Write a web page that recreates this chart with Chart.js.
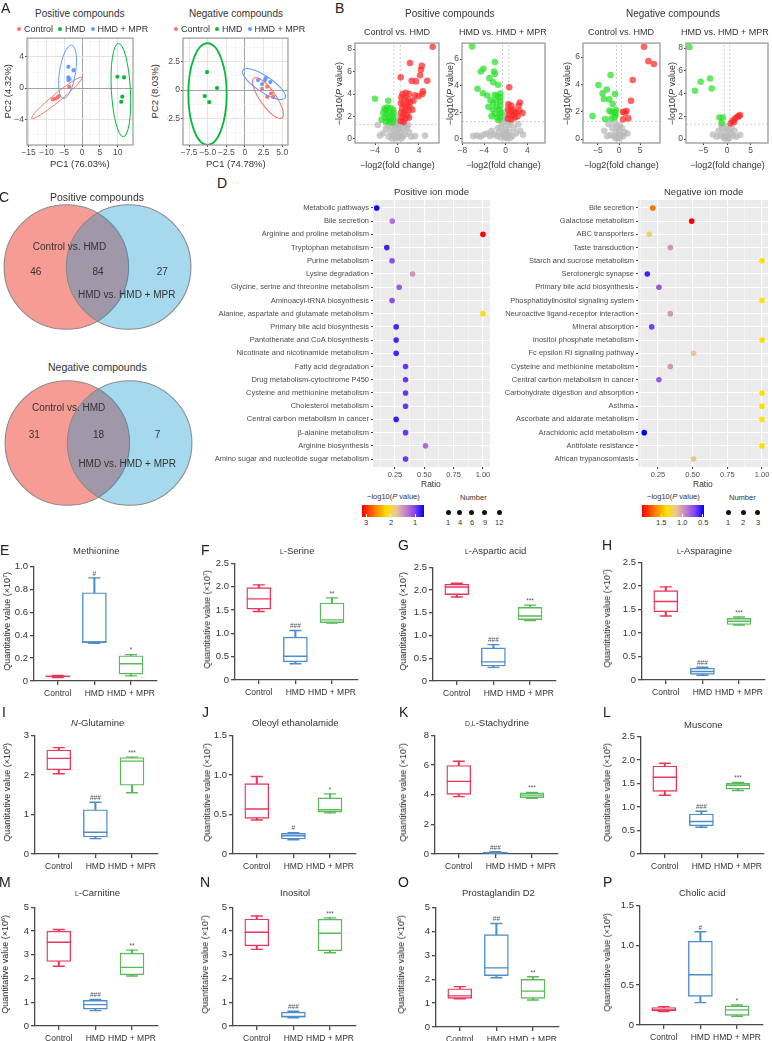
<!DOCTYPE html>
<html>
<head>
<meta charset="utf-8">
<title>Metabolomics figure</title>
<script src="https://cdn.jsdelivr.net/npm/chart.js@4.4.1/dist/chart.umd.min.js"></script>
<style>
  html, body { margin: 0; padding: 0; background: #fff; }
  body { position: relative; width: 772px; height: 1041px; overflow: hidden;
         font-family: "Liberation Sans", Arial, sans-serif; color: #333; }
  canvas { position: absolute; }
  .t { position: absolute; white-space: nowrap; line-height: 1; }
  .rot { writing-mode: vertical-rl; text-orientation: sideways; transform: rotate(180deg); }
  .dot { display: inline-block; width: 4px; height: 4px; border-radius: 50%; margin-right: 3px;
         position: relative; top: -1px; }
  .sc { font-size: 0.72em; }
  sup { font-size: 0.6em; line-height: 0; vertical-align: 0.6em; }
  .bar { position: absolute; }
  .ndot { position: absolute; width: 5px; height: 5px; border-radius: 50%; background: #111; }
</style>
</head>
<body>
<script>
// ---------- shared ----------
const groups = ['Control', 'HMD', 'HMD + MPR'];
const groupColors = ['#E8375B', '#4C8DCA', '#5CBA5A'];
const pcaColors = ['#F8766D', '#00BA38', '#619CFF'];

// ---------- A: PCA scores [PC1, PC2] ----------
const posPcaControl = [[-8.2, -1.45], [-7.5, -1.37], [-6.9, -1.2], [-6.5, -1.03], [-3.6, 0.17]];
const posPcaHMD = [[9.9, 1.45], [11.8, 1.37], [11.3, -1.1], [11.0, -1.75]];
const posPcaMPR = [[-3.85, 2.73], [-2.4, 2.3], [-3.85, 1.37], [-3.85, 1.03], [-3.5, 1.15]];
const negPcaControl = [[2.3, 0.1], [3.0, 0.3], [3.0, -0.6], [3.8, -0.6], [3.5, -0.3]];
const negPcaHMD = [[-5.1, 1.58], [-3.76, 0.18], [-5.4, -0.53], [-4.8, -1.05]];
const negPcaMPR = [[1.75, 0.88], [2.7, 0.88], [3.4, 0.7], [2.3, 0.53], [2.8, 1.05]];
// confidence ellipses: [centre x, centre y, axis-1 dx, dy, axis-2 dx, dy]
const posEllipses = [[-7.1, -1.26, 7.02, 2.63, 0.71, -0.40], [10.9, -0.26, -0.70, 5.99, 2.67, 0.06], [-4.07, 2.09, 1.18, 3.42, 2.22, -0.16]];
const negEllipses = [[3.09, -0.70, 1.88, -1.75, 0.87, 0.40], [-5.04, -0.35, 0, 4.47, 2.58, 0], [2.55, 0.53, 2.82, -1.23, -0.60, -0.58]];

// ---------- B: volcano [-log2 FC, -log10 P] ----------
const fcCut = 0.58;
const pCut = 1.3;
const volPosCtrlUp = [[6.5, 8.2], [2.36, 6.76], [4.5, 6.5], [4.36, 6.16], [4.2, 5.66], [0.67, 5.48], [2.67, 5.18], [3.45, 5.12], [5.5, 5.18],
  [4.7, 4.23], [4.6, 4.0], [3.3, 3.88], [3.9, 3.8], [1.0, 4.0], [1.6, 4.1], [2.2, 4.0], [0.8, 3.7], [1.4, 3.6], [2.0, 3.5], [2.4, 3.3],
  [0.7, 3.2], [1.2, 3.1], [1.8, 3.0], [2.3, 2.9], [0.9, 2.7], [1.5, 2.6], [2.1, 2.5], [0.7, 2.3], [1.2, 2.2], [1.8, 2.1], [0.9, 1.9],
  [1.5, 1.8], [2.2, 1.9], [0.7, 1.6], [1.2, 1.5], [3.0, 3.4], [2.8, 2.6]];
const volPosCtrlDown = [[-4.0, 3.58], [-1.6, 3.4], [-2.0, 2.6], [-2.8, 1.72], [-2.3, 2.7], [-1.8, 2.8], [-1.2, 2.75], [-0.7, 2.6],
  [-2.5, 2.3], [-1.9, 2.2], [-1.4, 2.3], [-0.9, 2.1], [-0.6, 2.3], [-2.2, 1.9], [-1.6, 1.8], [-1.1, 1.7], [-0.7, 1.8], [-1.4, 1.5],
  [-0.8, 1.45], [-2.0, 1.55]];
const volPosCtrlNs = [[-3.1, 0.3], [3.3, 0.26], [5.1, 0.3], [-3.5, 1.24], [-2.5, 0.5], [-2.0, 0.9], [-1.5, 0.2], [-1.2, 0.6], [-1.0, 1.1],
  [-0.7, 0.3], [-0.5, 0.8], [-0.3, 1.2], [0, 0.1], [0, 0.5], [0.2, 0.9], [0.4, 0.3], [0.5, 1.1], [0.7, 0.6], [1.0, 0.2], [1.2, 0.9],
  [1.5, 0.4], [1.8, 1.0], [2.2, 0.6], [2.6, 0.2], [-0.2, 0.05], [0.8, 0.05], [-0.9, 0.05], [1.3, 1.25], [-1.7, 1.2], [2.0, 1.25],
  [0.1, 1.3], [0.3, 1.7], [-0.2, 1.9], [0.1, 1.5]];
const volPosMprUp = [[0.66, 3.88], [2.6, 2.73], [2.4, 2.5], [3.1, 1.93], [0.5, 2.6], [1.0, 2.5], [0.4, 2.2], [0.9, 2.1], [1.4, 2.2],
  [1.9, 2.0], [0.6, 1.8], [1.2, 1.75], [1.7, 1.6], [2.2, 1.7], [0.4, 1.5], [1.0, 1.45], [2.5, 2.1], [1.5, 1.9]];
const volPosMprDown = [[-6.2, 6.95], [-2.0, 5.77], [-4.1, 5.26], [-4.6, 5.06], [-2.15, 5.06], [-2.0, 4.87], [-3.0, 4.56], [-2.3, 4.26],
  [-1.4, 4.06], [-5.2, 3.76], [-4.2, 3.43], [-3.4, 3.26], [-1.0, 3.4], [-1.0, 3.1], [-1.0, 2.8], [-1.0, 2.5], [-1.2, 2.2], [-1.1, 1.9],
  [-1.0, 1.6], [-1.3, 1.4], [-2.8, 2.9], [-2.3, 2.7], [-1.8, 2.9], [-3.2, 2.4], [-2.4, 2.2], [-1.7, 2.4], [-2.0, 1.9], [-1.6, 1.6],
  [-2.6, 1.7], [-1.5, 3.2], [-2.0, 3.3], [-0.8, 2.0]];
const volPosMprNs = [[-5.3, 0.25], [-4.1, 0.3], [-2.9, 0.2], [-3.5, 0.4], [-2.2, 0.35], [-1.6, 0.2], [-1.2, 0.5], [-0.8, 0.9], [-0.5, 1.2],
  [-0.4, 0.4], [-0.2, 0.1], [0, 0.7], [0.1, 1.3], [0.3, 0.3], [0.5, 1.0], [0.7, 0.5], [1.0, 1.2], [1.2, 0.2], [1.5, 0.8], [1.9, 0.4],
  [2.3, 1.1], [2.7, 0.6], [3.2, 0.3], [-0.9, 0.1], [-1.4, 0.8], [-2.6, 0.6], [0.2, 0.05], [-0.1, 0.5], [0.8, 0.05], [-0.3, 1.6],
  [0.2, 1.8], [-4.7, 0.15], [-6.0, 0.2]];
const volNegCtrlUp = [[5.95, 6.75], [7.0, 5.7], [8.3, 5.49], [3.25, 4.32], [2.86, 2.8], [1.8, 2.05], [0.9, 2.0], [1.4, 1.93], [2.2, 1.51], [1.0, 1.44]];
const volNegCtrlDown = [[-2.0, 4.68], [-4.9, 3.95], [-2.9, 3.63], [-3.9, 3.34], [-0.95, 3.29], [-3.6, 2.93], [-2.3, 2.9], [-1.5, 2.56],
  [-2.3, 2.07], [-0.7, 2.12], [-1.8, 2.0], [-1.1, 1.95], [-6.3, 1.68], [-3.3, 1.46], [-1.8, 1.5], [-1.0, 1.6], [-0.8, 1.8]];
const volNegCtrlNs = [[-3.5, 0.6], [-2.5, 1.1], [-2.0, 0.3], [-1.6, 0.8], [-1.2, 0.2], [-1.0, 1.2], [-0.7, 0.5], [-0.5, 0.9], [-0.3, 0.1],
  [0, 0.6], [0.2, 1.0], [0.4, 0.3], [0.7, 0.8], [1.0, 0.2], [1.3, 0.5], [0.1, 0.05], [-0.8, 0.05], [2.0, 0.4], [-2.8, 0.2]];
const volNegMprUp = [[2.77, 2.1], [2.2, 1.95], [1.7, 1.8], [1.2, 1.6], [0.8, 1.38], [1.5, 1.5], [2.5, 2.0]];
const volNegMprDown = [[-8.0, 8.1], [-3.6, 5.33], [-5.6, 5.04], [-3.25, 4.45], [-6.8, 4.25], [-1.6, 1.9], [-0.9, 1.9], [-1.1, 1.43]];
const volNegMprNs = [[-3.0, 0.4], [-2.2, 0.2], [-1.8, 0.7], [-1.4, 0.3], [-1.0, 0.9], [-0.7, 0.2], [-0.4, 0.6], [-0.2, 1.1], [0, 0.3],
  [0.3, 0.8], [0.5, 0.1], [0.8, 0.5], [1.0, 1.0], [1.3, 0.3], [1.6, 0.7], [2.0, 0.2], [2.8, 0.35], [-0.5, 0.05], [0.2, 0.05], [-1.2, 1.2]];

// ---------- C: Venn counts [only set 1, shared, only set 2] ----------
const vennSets = ['Control vs. HMD', 'HMD vs. HMD + MPR'];
const posVennCounts = [46, 84, 27];
const negVennCounts = [31, 18, 7];

// ---------- D: KEGG enrichment ----------
const posPathways = ['Metabolic pathways', 'Bile secretion', 'Arginine and proline metabolism', 'Tryptophan metabolism',
  'Purine metabolism', 'Lysine degradation', 'Glycine, serine and threonine metabolism', 'Aminoacyl-tRNA biosynthesis',
  'Alanine, aspartate and glutamate metabolism', 'Primary bile acid biosynthesis', 'Pantothenate and CoA biosynthesis',
  'Nicotinate and nicotinamide metabolism', 'Fatty acid degradation', 'Drug metabolism-cytochrome P450',
  'Cysteine and methionine metabolism', 'Cholesterol metabolism', 'Central carbon metabolism in cancer',
  '\u03B2-alanine metabolism', 'Arginine biosynthesis', 'Amino sugar and nucleotide sugar metabolism'];
const posRatio = [0.094, 0.227, 1.0, 0.18, 0.225, 0.40, 0.286, 0.225, 1.0, 0.26, 0.26, 0.26, 0.34, 0.34, 0.34, 0.34, 0.26, 0.34, 0.51, 0.34];
const posLogP = [0.66, 1.27, 3.17, 0.82, 1.07, 1.5, 1.15, 1.07, 2.1, 0.84, 0.84, 0.84, 0.94, 0.94, 0.94, 0.94, 0.79, 0.94, 1.25, 0.94];
const negPathways = ['Bile secretion', 'Galactose metabolism', 'ABC transporters', 'Taste transduction',
  'Starch and sucrose metabolism', 'Serotonergic synapse', 'Primary bile acid biosynthesis',
  'Phosphatidylinositol signaling system', 'Neuroactive ligand-receptor interaction', 'Mineral absorption',
  'Inositol phosphate metabolism', 'Fc epsilon RI signaling pathway', 'Cysteine and methionine metabolism',
  'Central carbon metabolism in cancer', 'Carbohydrate digestion and absorption', 'Asthma',
  'Ascorbate and aldarate metabolism', 'Arachidonic acid metabolism', 'Antifolate resistance', 'African trypanosomiasis'];
const negRatio = [0.212, 0.493, 0.187, 0.339, 1.0, 0.173, 0.257, 1.0, 0.339, 0.205, 1.0, 0.507, 0.339, 0.257, 1.0, 1.0, 1.0, 0.151, 1.0, 0.507];
const negLogP = [1.69, 1.96, 1.22, 0.98, 1.37, 0.58, 0.77, 1.37, 0.98, 0.68, 1.37, 1.14, 0.98, 0.77, 1.37, 1.37, 1.37, 0.47, 1.37, 1.14];
const posLogPRange = [3.17, 0.64];
const negLogPRange = [1.963, 0.473];
const posLogPTicks = [3, 2, 1];
const negLogPTicks = [1.5, 1.0, 0.5];
const posNumberKeys = [1, 4, 6, 9, 12];
const negNumberKeys = [1, 2, 3];

// ---------- E-P: box plots [min, Q1, median, Q3, max] for Control, HMD, HMD + MPR ----------
const methionine = [[0.03, 0.035, 0.04, 0.045, 0.048], [0.33, 0.335, 0.34, 0.77, 0.9], [0.045, 0.06, 0.15, 0.22, 0.23]];
const lSerine = [[1.47, 1.52, 1.74, 1.98, 2.04], [0.35, 0.39, 0.51, 0.92, 1.06], [1.22, 1.23, 1.29, 1.65, 1.76]];
const lAsparticAcid = [[1.85, 1.9, 2.07, 2.13, 2.15], [0.3, 0.33, 0.42, 0.73, 0.8], [1.33, 1.35, 1.43, 1.62, 1.67]];
const lAsparagine = [[1.36, 1.45, 1.67, 1.9, 1.98], [0.1, 0.12, 0.18, 0.25, 0.27], [1.17, 1.18, 1.25, 1.31, 1.34]];
const nGlutamine = [[2.03, 2.13, 2.42, 2.63, 2.69], [0.39, 0.43, 0.55, 1.12, 1.31], [1.55, 1.74, 2.35, 2.44, 2.45]];
const oleoylEthanolamide = [[0.43, 0.45, 0.57, 0.89, 0.98], [0.18, 0.19, 0.23, 0.26, 0.27], [0.52, 0.53, 0.56, 0.71, 0.76]];
const stachydrine = [[3.87, 4.02, 4.9, 5.97, 6.26], [0.03, 0.05, 0.08, 0.12, 0.15], [3.75, 3.8, 3.97, 4.12, 4.15]];
const muscone = [[1.25, 1.33, 1.63, 1.87, 1.93], [0.57, 0.6, 0.69, 0.85, 0.91], [1.35, 1.38, 1.46, 1.5, 1.52]];
const lCarnitine = [[2.52, 2.72, 3.53, 4.0, 4.07], [0.65, 0.71, 0.9, 1.08, 1.12], [2.11, 2.16, 2.47, 3.07, 3.2]];
const inositol = [[3.23, 3.38, 3.95, 4.51, 4.64], [0.35, 0.37, 0.4, 0.58, 0.62], [3.09, 3.17, 3.91, 4.5, 4.56]];
const prostaglandinD2 = [[1.18, 1.2, 1.3, 1.6, 1.69], [2.06, 2.15, 2.47, 3.86, 4.33], [1.13, 1.2, 1.5, 1.99, 2.1]];
const cholicAcid = [[0.17, 0.18, 0.19, 0.22, 0.23], [0.28, 0.36, 0.63, 1.05, 1.17], [0.11, 0.12, 0.19, 0.24, 0.25]];
// significance marks above each box
const methionineSig = ['', '#', '*'];
const lSerineSig = ['', '###', '**'];
const lAsparticAcidSig = ['', '###', '***'];
const lAsparagineSig = ['', '###', '***'];
const nGlutamineSig = ['', '###', '***'];
const oleoylEthanolamideSig = ['', '#', '*'];
const stachydrineSig = ['', '###', '***'];
const musconeSig = ['', '###', '***'];
const lCarnitineSig = ['', '###', '**'];
const inositolSig = ['', '###', '***'];
const prostaglandinD2Sig = ['', '##', '**'];
const cholicAcidSig = ['', '#', '*'];

// ---------- helpers ----------
const FONT = '"Liberation Sans", Arial, sans-serif';
Chart.defaults.font.family = FONT;
Chart.defaults.font.size = 9;
Chart.defaults.color = '#333';
Chart.defaults.animation = false;
Chart.defaults.responsive = false;
Chart.defaults.devicePixelRatio = 1;
Chart.defaults.plugins.legend.display = false;
Chart.defaults.plugins.tooltip.enabled = false;

// text centred on (x, y), snapped to whole pixels so it stays crisp
function label(html, x, y, size, opt = {}) {
  const d = document.createElement('div');
  d.className = 't' + (opt.rot ? ' rot' : '');
  d.innerHTML = html;
  d.style.fontSize = size + 'px';
  d.style.color = opt.color || '#333';
  document.body.appendChild(d);
  const w = d.offsetWidth, h = d.offsetHeight;
  const left = opt.align === 'l' ? x : opt.align === 'r' ? x - w : x - w / 2;
  d.style.left = Math.round(left) + 'px';
  d.style.top = Math.round(y - h / 2) + 'px';
  return d;
}

// area = wanted chart area on the page [left, top, right, bottom]; pad = room for axes [l, t, r, b]
function makeChart(area, pad, config) {
  const [x0, y0, x1, y1] = area;
  const [pl, pt, pr, pb] = pad;
  const w = Math.round(x1 - x0 + pl + pr), h = Math.round(y1 - y0 + pt + pb);
  const cv = document.createElement('canvas');
  cv.width = w; cv.height = h;
  Object.assign(cv.style, { left: (x0 - pl) + 'px', top: (y0 - pt) + 'px', width: w + 'px', height: h + 'px' });
  document.body.appendChild(cv);
  const sc = config.options.scales;
  const xs = sc.x.display !== false, ys = sc.y.display !== false;
  if (xs) sc.x.afterFit = s => { s.height = pb; };
  if (ys) sc.y.afterFit = s => { s.width = pl; };
  config.options.layout = { padding: { left: ys ? 0 : pl, top: pt, right: pr, bottom: xs ? 0 : pb } };
  return new Chart(cv, config);
}

function panelPlugin(o) {
  return {
    id: 'panel',
    beforeDraw(chart) {
      if (!o.fill) return;
      const a = chart.chartArea, c = chart.ctx;
      c.save(); c.fillStyle = o.fill;
      c.fillRect(a.left, a.top, a.right - a.left, a.bottom - a.top); c.restore();
    },
    afterDraw(chart) {
      if (!o.frame) return;
      const a = chart.chartArea, c = chart.ctx;
      c.save(); c.strokeStyle = o.frame; c.lineWidth = o.width || 1;
      c.strokeRect(a.left, a.top, a.right - a.left, a.bottom - a.top); c.restore();
    }
  };
}

function textPlugin(items, size, color) {
  return {
    id: 'texts',
    afterDatasetsDraw(chart) {
      const c = chart.ctx, sx = chart.scales.x, sy = chart.scales.y;
      c.save();
      c.textAlign = 'center'; c.textBaseline = 'middle'; c.fillStyle = color;
      c.font = `${size}px ${FONT}`;
      items.forEach(it => c.fillText(it.text, sx.getPixelForValue(it.x), sy.getPixelForValue(it.y) + (it.dy || 0)));
      c.restore();
    }
  };
}

function ellipsePlugin(list, colors, widths) {
  return {
    id: 'ellipses',
    afterDatasetsDraw(chart) {
      const c = chart.ctx, sx = chart.scales.x, sy = chart.scales.y, a = chart.chartArea;
      c.save();
      c.beginPath(); c.rect(a.left, a.top, a.right - a.left, a.bottom - a.top); c.clip();
      list.forEach((e, i) => {
        const px = sx.getPixelForValue(e[0]), py = sy.getPixelForValue(e[1]);
        const ax = sx.getPixelForValue(e[0] + e[2]) - px, ay = sy.getPixelForValue(e[1] + e[3]) - py;
        const bx = sx.getPixelForValue(e[0] + e[4]) - px, by = sy.getPixelForValue(e[1] + e[5]) - py;
        c.save();
        c.transform(ax, ay, bx, by, px, py);
        c.beginPath(); c.arc(0, 0, 1, 0, 2 * Math.PI);
        c.restore();
        c.strokeStyle = colors[i]; c.lineWidth = widths[i]; c.stroke();
      });
      c.restore();
    }
  };
}

const isMajor = (v, s) => Math.abs(v / s - Math.round(v / s)) < 1e-6;
const minus = v => (v < 0 ? '\u2212' : '') + Math.abs(v);

// ---------- A: PCA ----------
function pcaChart(area, pts, ells, widths, xr, yr, xStep, yStep, fmtX, fmtY) {
  const axis = (r, step, fmt) => ({
    type: 'linear', min: r[0], max: r[1],
    ticks: { stepSize: step / 2, includeBounds: false, autoSkip: false, maxRotation: 0, font: { size: 8.5 },
             color: '#4d4d4d', padding: 1, callback: v => isMajor(v, step) ? fmt(v) : '' },
    grid: { color: c => Math.abs(c.tick.value) < 1e-9 ? '#a3a3a3' : isMajor(c.tick.value, step) ? '#e3e3e3' : '#f1f1f1',
            lineWidth: c => isMajor(c.tick.value, step) ? 1 : 0.6,
            tickColor: c => isMajor(c.tick.value, step) ? '#444' : 'rgba(0,0,0,0)', tickLength: 2 },
    border: { display: false }
  });
  return makeChart(area, [16, 6, 6, 14], {
    type: 'scatter',
    data: { datasets: pts.map((p, i) => ({ data: p.map(q => ({ x: q[0], y: q[1] })), pointRadius: 2.1,
      pointBackgroundColor: pcaColors[i], pointBorderWidth: 0 })) },
    options: { scales: { x: axis(xr, xStep, fmtX), y: axis(yr, yStep, fmtY) } },
    plugins: [panelPlugin({ frame: '#9a9a9a', width: 1.2 }), ellipsePlugin(ells, pcaColors, widths)]
  });
}
const fmtHalf = v => v === 0 ? '0' : (v < 0 ? '\u2212' : '') + Math.abs(v).toFixed(1);
pcaChart([27, 38, 133, 145], [posPcaControl, posPcaHMD, posPcaMPR], posEllipses, [1, 1, 1],
  [-15.45, 14.3], [-7.3, 6.41], 5, 4, minus, minus);
pcaChart([183, 38, 288, 145], [negPcaControl, negPcaHMD, negPcaMPR], negEllipses, [1.1, 1.8, 1.1],
  [-8.33, 5.78], [-4.82, 4.56], 2.5, 2.5, fmtHalf, fmtHalf);

// ---------- B: volcano plots ----------
function volcanoChart(area, up, down, ns, xr, yr, xStep) {
  const pts = a => a.map(p => ({ x: p[0], y: p[1] }));
  const dash = (data) => ({ type: 'line', data, borderColor: '#c4c4c4', borderWidth: 0.8, borderDash: [2, 2], pointRadius: 0 });
  const tickAxis = (r, step) => ({
    type: 'linear', min: r[0], max: r[1],
    ticks: { stepSize: step, includeBounds: false, autoSkip: false, maxRotation: 0, font: { size: 8.5 }, color: '#4d4d4d',
             padding: 1, callback: minus },
    grid: { drawOnChartArea: false, tickLength: 2, color: '#444' },
    border: { display: false }
  });
  return makeChart(area, [14, 6, 4, 14], {
    type: 'scatter',
    data: { datasets: [
      { data: pts(up), pointRadius: 3.3, pointBackgroundColor: 'rgba(255,40,40,0.72)', pointBorderWidth: 0 },
      { data: pts(down), pointRadius: 3.3, pointBackgroundColor: 'rgba(40,225,40,0.72)', pointBorderWidth: 0 },
      { data: pts(ns), pointRadius: 3.3, pointBackgroundColor: 'rgba(185,185,185,0.75)', pointBorderWidth: 0 },
      dash([{ x: -fcCut, y: yr[0] }, { x: -fcCut, y: yr[1] }]),
      dash([{ x: fcCut, y: yr[0] }, { x: fcCut, y: yr[1] }]),
      dash([{ x: xr[0], y: pCut }, { x: xr[1], y: pCut }])
    ] },
    options: { scales: { x: tickAxis(xr, xStep), y: tickAxis(yr, 2) } },
    plugins: [panelPlugin({ frame: '#999', width: 1.3 })]
  });
}
volcanoChart([355, 43, 439, 143], volPosCtrlUp, volPosCtrlDown, volPosCtrlNs, [-7.64, 7.64], [-0.36, 8.53], 4);
volcanoChart([462, 43, 545, 143], volPosMprUp, volPosMprDown, volPosMprNs, [-8.06, 7.25], [-0.32, 7.2], 4);
volcanoChart([583, 43, 660, 143], volNegCtrlUp, volNegCtrlDown, volNegCtrlNs, [-8.57, 9.76], [-0.29, 7.02], 5);
volcanoChart([686, 43, 768, 143], volNegMprUp, volNegMprDown, volNegMprNs, [-8.72, 8.72], [-0.35, 8.44], 5);

// ---------- C: Venn diagrams ----------
function vennChart(area, counts, pos) {
  const items = [
    { x: pos[0][0], y: pos[0][1], text: vennSets[0] },
    { x: pos[1][0], y: pos[1][1], text: String(counts[0]) },
    { x: pos[2][0], y: pos[2][1], text: String(counts[1]) },
    { x: pos[3][0], y: pos[3][1], text: String(counts[2]) },
    { x: pos[4][0], y: pos[4][1], text: vennSets[1] }
  ];
  return makeChart(area, [4, 4, 4, 4], {
    type: 'scatter',
    data: { datasets: [{
      data: [{ x: -0.5, y: 0 }, { x: 0.5, y: 0 }], clip: false,
      pointRadius: ctx => { const s = ctx.chart.scales.x; const r = s.getPixelForValue(1) - s.getPixelForValue(0); return isFinite(r) && r > 0 ? r : 1; },
      pointBackgroundColor: ['rgba(240,90,77,0.6)', 'rgba(0,144,206,0.35)'],
      pointBorderColor: '#8a8a8a', pointBorderWidth: 1.1
    }] },
    options: { scales: { x: { display: false, min: -1.5, max: 1.5 }, y: { display: false, min: -1.05, max: 1.05 } } },
    plugins: [textPlugin(items, 10, '#333')]
  });
}
vennChart([3, 200.85, 192, 333.15], posVennCounts, [[-0.45, 0.32], [-0.99, -0.08], [0.01, -0.08], [1.04, -0.08], [0.47, -0.46]]);
vennChart([4, 376.85, 193, 509.15], negVennCounts, [[-0.48, 0.56], [-1.03, 0.13], [0, 0.13], [0.95, 0.13], [0.46, -0.35]]);

// ---------- D: enrichment dot plots ----------
const cStops = [[0, [255, 0, 0]], [0.2, [255, 120, 0]], [0.4, [255, 225, 0]], [0.55, [232, 200, 150]],
                [0.7, [200, 130, 200]], [0.85, [130, 70, 240]], [1, [0, 0, 255]]];
function rampColor(f) {
  f = Math.max(0, Math.min(1, f));
  for (let i = 1; i < cStops.length; i++) {
    if (f <= cStops[i][0]) {
      const [f0, c0] = cStops[i - 1], [f1, c1] = cStops[i];
      const t = (f - f0) / (f1 - f0);
      return `rgb(${c0.map((v, k) => Math.round(v + (c1[k] - v) * t)).join(',')})`;
    }
  }
  return 'rgb(0,0,255)';
}
const cmap = range => v => rampColor((range[0] - v) / (range[0] - range[1]));

function dotChart(area, pad, names, ratio, logp, range, xr) {
  return makeChart(area, pad, {
    type: 'scatter',
    data: { datasets: [{ data: ratio.map((r, i) => ({ x: r, y: i + 1 })), pointRadius: 2.8,
      pointBackgroundColor: logp.map(cmap(range)), pointBorderWidth: 0 }] },
    options: { scales: {
      x: { type: 'linear', min: xr[0], max: xr[1],
           ticks: { stepSize: 0.125, includeBounds: false, autoSkip: false, maxRotation: 0, font: { size: 7.5 }, color: '#4d4d4d',
                    padding: 1, callback: v => isMajor(v, 0.25) ? v.toFixed(2) : '' },
           grid: { color: '#fff', lineWidth: c => isMajor(c.tick.value, 0.25) ? 1.1 : 0.5,
                   tickColor: c => isMajor(c.tick.value, 0.25) ? '#444' : 'rgba(0,0,0,0)', tickLength: 2 },
           border: { display: false } },
      y: { type: 'linear', reverse: true, min: 0.4, max: names.length + 0.6,
           afterBuildTicks: s => { s.ticks = names.map((n, i) => ({ value: i + 1 })); },
           ticks: { autoSkip: false, font: { size: 7.5 }, color: '#4d4d4d', padding: 2, callback: v => names[v - 1] },
           grid: { color: '#fff', lineWidth: 1.1, tickColor: '#444', tickLength: 2 },
           border: { display: false } }
    } },
    plugins: [panelPlugin({ fill: '#EBEBEB' })]
  });
}
dotChart([373, 200, 490, 467], [168, 8, 6, 16], posPathways, posRatio, posLogP, posLogPRange, [0.0625, 1.06]);
dotChart([638, 200, 768, 467], [143, 8, 4, 16], negPathways, negRatio, negLogP, negLogPRange, [0.106, 1.043]);

function colorLegend(x, y, w, h, range, ticks) {
  const bar = document.createElement('div');
  bar.className = 'bar';
  const stops = cStops.map(s => `${rampColor(s[0])} ${(s[0] * 100).toFixed(0)}%`).join(',');
  Object.assign(bar.style, { left: x + 'px', top: y + 'px', width: w + 'px', height: h + 'px',
    background: `linear-gradient(to right, ${stops})` });
  document.body.appendChild(bar);
  ticks.forEach(v => {
    const px = x + (range[0] - v) / (range[0] - range[1]) * w;
    const tk = document.createElement('div');
    tk.className = 'bar';
    Object.assign(tk.style, { left: Math.round(px - 0.5) + 'px', top: (y + h - 3) + 'px', width: '1px', height: '3px', background: '#fff' });
    document.body.appendChild(tk);
    label(String(v === Math.round(v) && range[0] > 2 ? v : v.toFixed(1)), px, y + h + 6, 7.5);
  });
}
function numberLegend(xs, keys, cy) {
  keys.forEach((k, i) => {
    const d = document.createElement('div');
    d.className = 'ndot';
    d.style.left = Math.round(xs[i] - 2.5) + 'px'; d.style.top = Math.round(cy - 2.5) + 'px';
    document.body.appendChild(d);
    label(String(k), xs[i], cy + 11, 7.5);
  });
}
label('\u2212log10(<i>P</i> value)', 393, 497, 7.5);
colorLegend(362, 505, 62, 12, posLogPRange, posLogPTicks);
label('Number', 473, 498, 7.5);
numberLegend([448, 459.5, 471.5, 484.5, 499], posNumberKeys, 512);
label('\u2212log10(<i>P</i> value)', 673, 497, 7.5);
colorLegend(642, 505, 62, 12, negLogPRange, negLogPTicks);
label('Number', 742, 498, 7.5);
numberLegend([728, 743, 757.5], negNumberKeys, 512);

// ---------- E-P: box plots ----------
function boxChart(area, stats, yMax, yStep, sig) {
  const dec = yStep < 1 ? 1 : 0;
  const sigItems = stats.map((s, i) => ({ x: i + 1, y: s[4], text: sig[i], dy: -4 })).filter(it => it.text);
  return makeChart(area, [36, 8, 12, 24], {
    type: 'bar',
    data: { datasets: [
      { type: 'scatter', order: 1, data: stats.map((s, i) => ({ x: i + 1, y: s[2] })), pointStyle: 'line', pointRadius: 12,
        pointBorderWidth: 1.4, pointBorderColor: groupColors },
      { type: 'scatter', order: 2, data: stats.flatMap((s, i) => [{ x: i + 1, y: s[0] }, { x: i + 1, y: s[4] }]), pointStyle: 'line',
        pointRadius: 6, pointBorderWidth: 1.4, pointBorderColor: stats.flatMap((s, i) => [groupColors[i], groupColors[i]]) },
      { type: 'bar', order: 3, grouped: false, data: stats.map((s, i) => ({ x: i + 1, y: [s[1], s[3]] })), barThickness: 24,
        backgroundColor: '#fff', borderColor: groupColors, borderWidth: 1.4, borderSkipped: false },
      { type: 'bar', order: 4, grouped: false, data: stats.map((s, i) => ({ x: i + 1, y: [s[0], s[4]] })), barThickness: 1.4,
        backgroundColor: groupColors, borderWidth: 0 }
    ] },
    options: { scales: {
      x: { type: 'linear', min: 0.35, max: 3.7, offset: false,
           afterBuildTicks: s => { s.ticks = groups.map((g, i) => ({ value: i + 1 })); },
           ticks: { autoSkip: false, maxRotation: 0, font: { size: 8.5 }, color: '#333', padding: 4, callback: v => groups[v - 1] },
           grid: { drawOnChartArea: false, offset: false, tickLength: 4, color: '#4a4a4a', lineWidth: 1.3 },
           border: { color: '#4a4a4a', width: 1.3 } },
      y: { min: 0, max: yMax,
           ticks: { stepSize: yStep, font: { size: 9.5 }, color: '#333', padding: 2, callback: v => v === 0 ? '0' : v.toFixed(dec) },
           grid: { drawOnChartArea: false, tickLength: 4, color: '#4a4a4a', lineWidth: 1.3 },
           border: { color: '#4a4a4a', width: 1.3 } }
    } },
    plugins: [textPlugin(sigItems, 6.5, '#555')]
  });
}

const boxPanels = [
  ['E', 'Methionine', methionine, methionineSig, 7, 1.0, 0.2, [34, 561, 158, 681], 4, 550, 7],
  ['F', '<span class="sc">L</span>-Serine', lSerine, lSerineSig, 7, 2.5, 0.5, [235, 558, 359, 680], 205, 550, 207],
  ['G', '<span class="sc">L</span>-Aspartic acid', lAsparticAcid, lAsparticAcidSig, 7, 2.5, 0.5, [433, 562, 557, 681], 403, 545, 403],
  ['H', '<span class="sc">L</span>-Asparagine', lAsparagine, lAsparagineSig, 7, 2.5, 0.5, [642, 557, 766, 680], 607, 545, 607],
  ['I', '<i>N</i>-Glutamine', nGlutamine, nGlutamineSig, 5, 3, 1, [35, 730, 159, 854], 4, 712, 7],
  ['J', 'Oleoyl ethanolamide', oleoylEthanolamide, oleoylEthanolamideSig, 7, 1.5, 0.5, [233, 730, 357, 854], 205, 712, 207],
  ['K', '<span class="sc">D,L</span>-Stachydrine', stachydrine, stachydrineSig, 7, 8, 2, [435, 730, 559, 854], 403, 712, 403],
  ['L', 'Muscone', muscone, musconeSig, 5, 2.5, 0.5, [641, 731, 765, 854], 607, 712, 607],
  ['M', '<span class="sc">L</span>-Carnitine', lCarnitine, lCarnitineSig, 6, 5, 1, [35, 902, 159, 1026], 5, 882, 5],
  ['N', 'Inositol', inositol, inositolSig, 7, 5, 1, [233, 902, 357, 1026], 205, 882, 205],
  ['O', 'Prostaglandin D2', prostaglandinD2, prostaglandinD2Sig, 6, 5, 1, [436, 902, 560, 1027], 403, 882, 401],
  ['P', 'Cholic acid', cholicAcid, cholicAcidSig, 6, 1.5, 0.5, [640, 900, 764, 1025], 607, 882, 607]
];
const titleRowY = { 561: 551, 558: 551, 562: 551, 557: 551, 730: 723, 731: 725, 902: 893, 900: 893 };
boxPanels.forEach(([letter, title, stats, sig, exp, yMax, yStep, area, lx, ly, tx]) => {
  boxChart(area, stats, yMax, yStep, sig);
  label(letter, lx, ly, 14, { color: '#222' });
  label(title, (area[0] + area[2]) / 2, titleRowY[area[1]], 9.5);
  label(`Quantitative value (\u00D710<sup>${exp}</sup>)`, tx, (area[1] + area[3]) / 2, 9, { rot: true, color: '#2a2a2a' });
});

// ---------- static text ----------
label('A', 5, 8, 14, { color: '#222' });
label('B', 339, 8, 14, { color: '#222' });
label('C', 4, 197, 14, { color: '#222' });
label('D', 222, 183, 14, { color: '#222' });

label('Positive compounds', 80, 14, 10);
label('Negative compounds', 236, 14, 10);
function pcaLegend(x, y) {
  return label(groups.map((g, i) => `<span class="dot" style="background:${pcaColors[i]}"></span>${g}`).join('&nbsp; '), x, y, 9, { align: 'l' });
}
pcaLegend(17, 29);
pcaLegend(174, 29);
label('PC2 (4.32%)', 8, 91, 9.5, { rot: true });
label('PC1 (76.03%)', 80, 164, 9.5);
label('PC2 (8.03%)', 155, 91, 9.5, { rot: true });
label('PC1 (74.78%)', 236, 164, 9.5);

label('Positive compounds', 450, 14, 10);
label('Negative compounds', 673, 14, 10);
[[397, 'Control vs. HMD'], [503, 'HMD vs. HMD + MPR'], [621, 'Control vs. HMD'], [725, 'HMD vs. HMD + MPR']].forEach(([x, s]) => label(s, x, 32, 9));
[397, 503, 621, 727].forEach(x => label('\u2212log2(fold change)', x, 165, 9));
[339, 450, 567, 672].forEach(x => label('\u2212log10(<i>P</i> value)', x, 93, 9, { rot: true }));

label('Positive compounds', 97, 197, 10.5);
label('Negative compounds', 97, 367, 10.5);

label('Positive ion mode', 431, 192, 9.5);
label('Negative ion mode', 703, 192, 9.5);
label('Ratio', 431, 484, 8.5);
label('Ratio', 703, 484, 8.5);
</script>
</body>
</html>
